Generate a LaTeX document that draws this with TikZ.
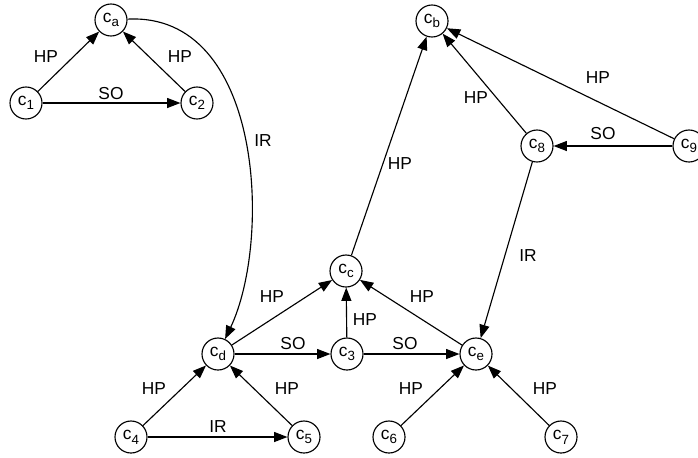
\documentclass[tikz,border=0pt]{standalone}
\usepackage{fontspec}
\setmainfont{Liberation Sans}
\usetikzlibrary{arrows.meta}

\newcommand{\concept}[1]{c\raisebox{-3.5pt}{\fontsize{10}{12}\selectfont #1}}

\tikzset{
  cnode/.style={draw, circle, line width=0.85pt, minimum size=24pt, inner sep=0pt, font=\fontsize{13}{15}\selectfont},
  arr/.style={line width=0.85pt, -{Triangle[length=10pt,width=7.5pt]}},
  lbl/.style={font=\fontsize{13}{15}\selectfont, inner sep=0pt}
}

\begin{document}
\begin{tikzpicture}[x=0.75pt, y=-0.75pt]
        \useasboundingbox (0,0) rectangle (698,457);

        % Concepts
        \node[cnode] (ca) at (111,20) {\concept{a}};
        \node[cnode] (c1) at (26,103) {\concept{1}};
        \node[cnode] (c2) at (197,103) {\concept{2}};
        \node[cnode] (cb) at (432,21) {\concept{b}};
        \node[cnode] (c8) at (537,146) {\concept{8}};
        \node[cnode] (c9) at (689,146) {\concept{9}};
        \node[cnode] (cc) at (346,271) {\concept{c}};
        \node[cnode] (cd) at (218,354) {\concept{d}};
        \node[cnode] (c3) at (347,354) {\concept{3}};
        \node[cnode] (ce) at (476,354) {\concept{e}};
        \node[cnode] (c4) at (131,437) {\concept{4}};
        \node[cnode] (c5) at (304,437) {\concept{5}};
        \node[cnode] (c6) at (389,437) {\concept{6}};
        \node[cnode] (c7) at (561,437) {\concept{7}};

        % Relations
        \draw[arr] (c1) -- (ca);
        \draw[arr] (c2) -- (ca);
        \draw[arr] (c1) -- (c2);
        \draw[arr] (ca) .. controls +(152,-8) and +(54,-114) .. (cd);
        \draw[arr] (cc) -- (cb);
        \draw[arr] (c8) -- (cb);
        \draw[arr] (c9) -- (cb);
        \draw[arr] (c9) -- (c8);
        \draw[arr] (c8) -- (ce);
        \draw[arr] (cd) -- (cc);
        \draw[arr] (c3) -- (cc);
        \draw[arr] (ce) -- (cc);
        \draw[arr] (cd) -- (c3);
        \draw[arr] (c3) -- (ce);
        \draw[arr] (c4) -- (cd);
        \draw[arr] (c5) -- (cd);
        \draw[arr] (c4) -- (c5);
        \draw[arr] (c6) -- (ce);
        \draw[arr] (c7) -- (ce);

        % Relation labels
        \node[lbl] (l1) at (46,57) {HP};
        \node[lbl] (l2) at (180,57) {HP};
        \node[lbl] (l3) at (111,94) {SO};
        \node[lbl] (l4) at (263,141) {IR};
        \node[lbl] (l5) at (400,164) {HP};
        \node[lbl] (l6) at (476,98) {HP};
        \node[lbl] (l7) at (598,78) {HP};
        \node[lbl] (l8) at (603,134) {SO};
        \node[lbl] (l9) at (528,256) {IR};
        \node[lbl] (l10) at (272,297) {HP};
        \node[lbl] (l11) at (365,320) {HP};
        \node[lbl] (l12) at (422,297) {HP};
        \node[lbl] (l13) at (293,344) {SO};
        \node[lbl] (l14) at (405,344) {SO};
        \node[lbl] (l15) at (154,389) {HP};
        \node[lbl] (l16) at (287,389) {HP};
        \node[lbl] (l17) at (218,427) {IR};
        \node[lbl] (l18) at (411,389) {HP};
        \node[lbl] (l19) at (545,389) {HP};
    \end{tikzpicture}
\end{document}
